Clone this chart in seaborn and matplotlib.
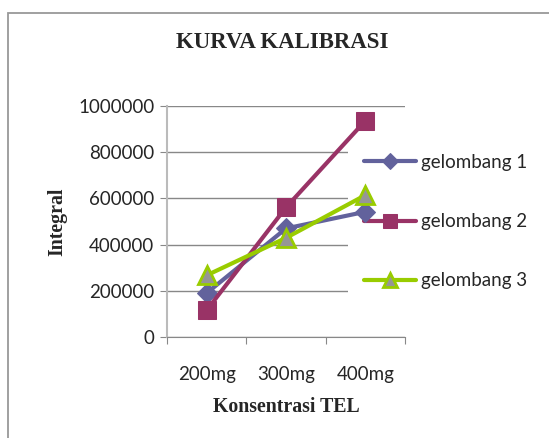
# Kalibrierkurve nachbauen
import pandas as pd
import seaborn as sns
import matplotlib.pyplot as plt
from matplotlib.patches import Rectangle

# Daten
konsentrasi = ["200mg", "300mg", "400mg"]
gelombang_1 = [190000, 470000, 542000]
gelombang_2 = [116000, 561000, 936000]
gelombang_3 = [267000, 429000, 614000]
y_ticks = [0, 200000, 400000, 600000, 800000, 1000000]

df = pd.DataFrame({
    "pos": [0, 1, 2],
    "Konsentrasi": konsentrasi,
    "gelombang 1": gelombang_1,
    "gelombang 2": gelombang_2,
    "gelombang 3": gelombang_3,
})

sns.set_style("white")
plt.rcParams['font.family'] = ['Lato', 'DejaVu Sans']

fig = plt.figure(figsize=(5.49, 4.38), dpi=100)
ax = fig.add_axes([167/549, (438-337)/438, (405-167)/549, (337-106)/438])

# Rahmen links/oben wie im Original
fig.patches.append(Rectangle((8/549, -0.2), 1.5, (438-13)/438 + 0.2, transform=fig.transFigure,
                             fill=False, edgecolor="#999999", linewidth=1.3))

# Stil der drei Reihen
stile = {
    "gelombang 1": dict(color="#62629c", marker="D", markersize=10, mfc="#62629c", mec="#62629c"),
    "gelombang 2": dict(color="#993366", marker="s", markersize=13, mfc="#993366", mec="#993366"),
    "gelombang 3": dict(color="#99cc00", marker="^", markersize=13, mfc="#969696", mec="#99cc00", mew=2),
}
for name, st in stile.items():
    sns.lineplot(data=df, x="pos", y=name, ax=ax, label=name, linewidth=3, zorder=3, **st)

ax.set_xlim(-0.5, 2.5)
ax.set_ylim(0, 1000000)
ax.set_yticks(y_ticks)
ax.set_yticklabels([str(v) for v in y_ticks])
ax.set_xticks([-0.5, 0.5, 1.5, 2.5])
ax.set_xticklabels([])
ax.set_xticks([0, 1, 2], minor=True)
ax.set_xticklabels(konsentrasi, minor=True)
ax.tick_params(axis="x", which="minor", length=0, pad=21, labelsize=13.5)
ax.tick_params(axis="x", which="major", length=5, direction="out", color="#888888", bottom=True)
ax.tick_params(axis="y", length=5, direction="out", color="#888888", left=True, labelsize=13.5, pad=4)

ax.grid(axis="y", color="#888888", linewidth=1)
ax.set_axisbelow(True)
for s in ["top", "right"]:
    ax.spines[s].set_visible(False)
ax.spines["left"].set_color("#bbbbbb")
ax.spines["left"].set_linewidth(1.5)
ax.spines["bottom"].set_color("#888888")

ax.set_xlabel("Konsentrasi TEL", family="Liberation Serif", fontweight="bold", fontsize=14.3, labelpad=10)
ax.set_ylabel("Integral", family="Liberation Serif", fontweight="bold", fontsize=14.3, labelpad=8)
fig.text(282/549, 1 - 43/438, "KURVA KALIBRASI", family="Liberation Serif", fontweight="bold",
         fontsize=16.5, ha="center", va="center")

leg = ax.legend(loc="upper left", bbox_to_anchor=(348/549, (438-138)/438), bbox_transform=fig.transFigure,
                frameon=True, facecolor="white", edgecolor="none", fancybox=False, framealpha=1,
                fontsize=13.5, handlelength=2.8, handletextpad=0.25, labelspacing=2.25,
                borderpad=0.85, borderaxespad=0, markerscale=0.8)
leg.set_zorder(1.5)

fig.savefig("out.png", dpi=100)
